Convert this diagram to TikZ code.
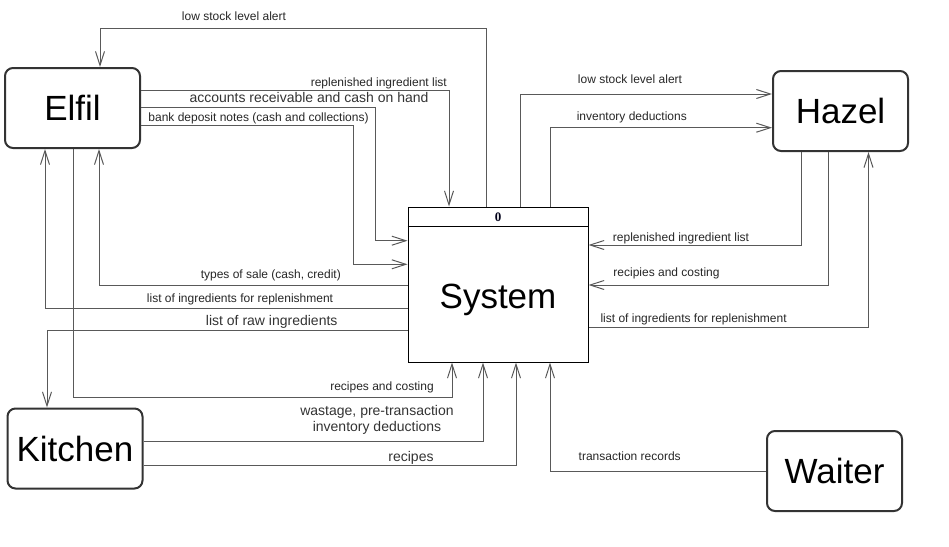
\documentclass[tikz,border=0pt]{standalone}
\usepackage{fontspec}
\setmainfont{Liberation Sans}
\newfontfamily\hdrfont{Liberation Serif}
\usetikzlibrary{arrows.meta}
\tikzset{
  ext/.style={draw=black!80, line width=2pt, rounded corners=8pt, minimum width=135pt, minimum height=80pt, inner sep=0pt, font=\fontsize{35}{40}\selectfont},
  proc/.style={draw=black, line width=1pt, minimum width=180pt, minimum height=155pt, inner sep=0pt},
  flow/.style={draw=black!65, line width=1pt, -{Straight Barb[length=14pt,width=9pt]}},
  lbl/.style={inner sep=0pt, text=black!85, font=\fontsize{12}{14}\selectfont},
  lblbig/.style={inner sep=0pt, text=black!80, font=\fontsize{14}{15.5}\selectfont, align=center},
}
\begin{document}
\begin{tikzpicture}[x=1pt,y=-1pt]
\useasboundingbox (0,0) rectangle (949,546);
% nodes
\node[ext] (elfil) at (72.5,108) {Elfil};
\node[ext] (hazel) at (840.5,111) {Hazel};
\node[ext] (kitchen) at (75,448.5) {Kitchen};
\node[ext] (waiter) at (834.5,471) {Waiter};
\node[proc] (sys) at (498,284.5) {};
\draw[line width=1pt] (sys.west |- 0,226) coordinate (hl) -- (sys.east |- 0,226) coordinate (hr);
\node[inner sep=0pt, font=\hdrfont\bfseries\fontsize{13}{14}\selectfont, text=black!90!blue] (num) at (498,217) {0};
\node[inner sep=0pt, font=\fontsize{35}{40}\selectfont] (systxt) at (498,300) {System};
% connectors Elfil side
\draw[flow] (sys.north -| 486,0) |- (100,28) -- (elfil.north -| 100,0);
\draw[flow] (elfil.east |- 0,90.3) -| (sys.north -| 449,0);
\draw[flow] (elfil.east |- 0,107.7) -| (375,240.7) -- (sys.west |- 0,240.7);
\draw[flow] (elfil.east |- 0,125) -| (353,264.3) -- (sys.west |- 0,264.3);
\draw[flow] (sys.west |- 0,285) -| (elfil.south -| 99,0);
\draw[flow] (sys.west |- 0,308) -| (elfil.south -| 45,0);
\draw[flow] (sys.west |- 0,330) -| (kitchen.north -| 47,0);
\draw[flow] (elfil.south -| 73,0) |- (452,397) -- (sys.south -| 452,0);
% Kitchen and Waiter
\draw[flow] (kitchen.east |- 0,441.3) -| (sys.south -| 483,0);
\draw[flow] (kitchen.east |- 0,465.7) -| (sys.south -| 516,0);
\draw[flow] (waiter.west |- 0,471) -| (sys.south -| 550,0);
% Hazel side
\draw[flow] (sys.north -| 520,0) |- (hazel.west |- 0,94);
\draw[flow] (sys.north -| 550,0) |- (hazel.west |- 0,127.7);
\draw[flow] (hazel.south -| 801,0) |- (sys.east |- 0,245);
\draw[flow] (hazel.south -| 828,0) |- (sys.east |- 0,285);
\draw[flow] (sys.east |- 0,327.7) -| (hazel.south -| 868.5,0);
% labels
\node[lbl] (l1) at (234,16) {low stock level alert};
\node[lbl] (l2) at (378.8,83) {replenished ingredient list};
\node[lblbig] (l3) at (309,97.5) {accounts receivable and cash on hand};
\node[lbl] (l4) at (258.5,118) {bank deposit notes (cash and collections)};
\node[lbl] (l5) at (270.8,275.5) {types of sale (cash, credit)};
\node[lbl] (l6) at (240,299.3) {list of ingredients for replenishment};
\node[lblbig] (l7) at (271.7,322) {list of raw ingredients};
\node[lbl] (l8) at (382,387.7) {recipes and costing};
\node[lblbig] (l9) at (377,420) {wastage, pre-transaction\\inventory deductions};
\node[lblbig] (l10) at (411,457.7) {recipes};
\node[lbl] (l11) at (629.7,456.5) {transaction records};
\node[lbl] (l12) at (630,79.7) {low stock level alert};
\node[lbl] (l13) at (631.8,117.7) {inventory deductions};
\node[lbl] (l14) at (681,238.7) {replenished ingredient list};
\node[lbl] (l15) at (666.5,273.7) {recipies and costing};
\node[lbl] (l16) at (693.6,319.3) {list of ingredients for replenishment};
\end{tikzpicture}
\end{document}
